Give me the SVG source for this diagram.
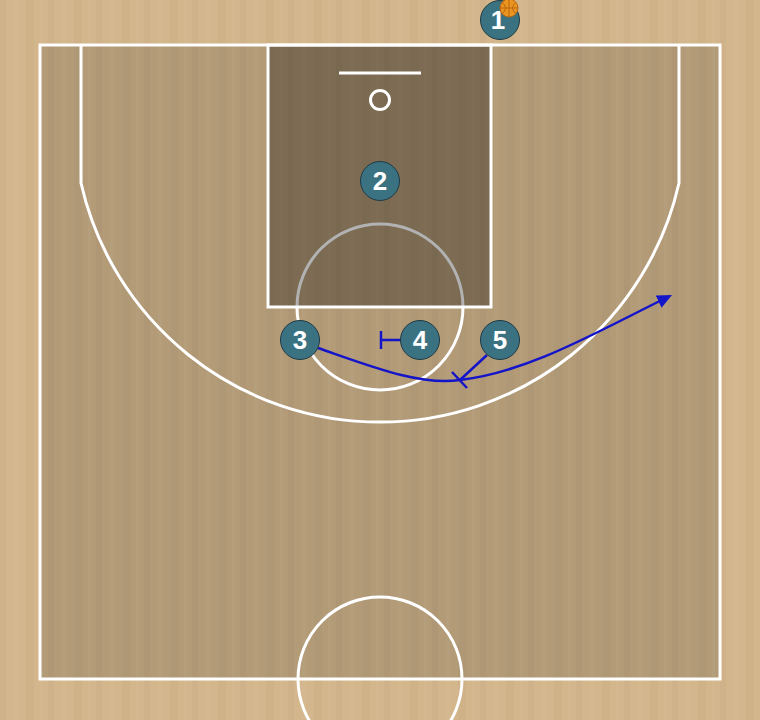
<svg xmlns="http://www.w3.org/2000/svg" width="760" height="720" viewBox="0 0 760 720">
<defs>
<style>
.line{fill:none;stroke:#fff;stroke-width:3}
.pl circle{fill:#3b7282;stroke:#1f3a44;stroke-width:1}
.pl text{font-family:"Liberation Sans",Arial,sans-serif;font-weight:bold;font-size:26px;fill:#fff;text-anchor:middle}
.mv{fill:none;stroke:#1414c8;stroke-width:2.5}
</style>
<pattern id="wood" width="48" height="720" patternUnits="userSpaceOnUse">
<rect x="0" y="0" width="6" height="720" fill="#000" opacity="0.025"/>
<rect x="14" y="0" width="4" height="720" fill="#fff" opacity="0.03"/>
<rect x="26" y="0" width="8" height="720" fill="#000" opacity="0.02"/>
<rect x="40" y="0" width="3" height="720" fill="#fff" opacity="0.03"/>
</pattern>
<marker id="arr" viewBox="0 0 10 10" refX="7" refY="5" markerWidth="15" markerHeight="15" orient="auto" markerUnits="userSpaceOnUse">
<path d="M0,0.5 L10,5 L0,9.5 z" fill="#1414c8"/>
</marker>
</defs>
<g id="court">
<rect x="0" y="0" width="760" height="720" fill="#d4b68c"/>
<rect x="40" y="45" width="680" height="634" fill="#b39b78"/>
<rect x="0" y="0" width="760" height="720" fill="url(#wood)"/>
<circle cx="380" cy="307" r="83" class="line"/>
<rect x="268" y="45" width="223" height="262" fill="#000" opacity="0.3"/>
<rect x="268" y="45" width="223" height="262" class="line"/>
<rect x="40" y="45" width="680" height="634" class="line"/>
<path d="M81,45 L81,183 A306.5,306.5 0 0 0 679,183 L679,45" class="line"/>
<line x1="339" y1="73" x2="421" y2="73" class="line" stroke-width="2"/>
<circle cx="380" cy="100" r="9.5" class="line"/>
<circle cx="380" cy="679" r="82" class="line"/>
</g>
<g id="connectors">
<path class="mv" d="M318,348 C370,366 420,386 460,380 C530,372 600,330 668,297" marker-end="url(#arr)"/>
<path class="mv" d="M487,355 L460,380 M452,372 L467,388"/>
<path class="mv" d="M401,340 L381,340 M381,331 L381,349"/>
</g>
<g id="p1" class="pl"><circle cx="500" cy="20" r="19.5"/><text x="498" y="29">1</text>
<circle cx="509" cy="8" r="9" style="fill:#ec9420;stroke:#b86810"/>
<path d="M500,8 H518 M509,-1 V17 M502,2 Q509,8 502,14 M516,2 Q509,8 516,14" fill="none" stroke="#b86810" stroke-width="1"/>
</g>
<g id="p2" class="pl"><circle cx="380" cy="181" r="19.5"/><text x="380" y="190">2</text></g>
<g id="p3" class="pl"><circle cx="300" cy="340" r="19.5"/><text x="300" y="349">3</text></g>
<g id="p4" class="pl"><circle cx="420" cy="340" r="19.5"/><text x="420" y="349">4</text></g>
<g id="p5" class="pl"><circle cx="500" cy="340" r="19.5"/><text x="500" y="349">5</text></g>
</svg>
